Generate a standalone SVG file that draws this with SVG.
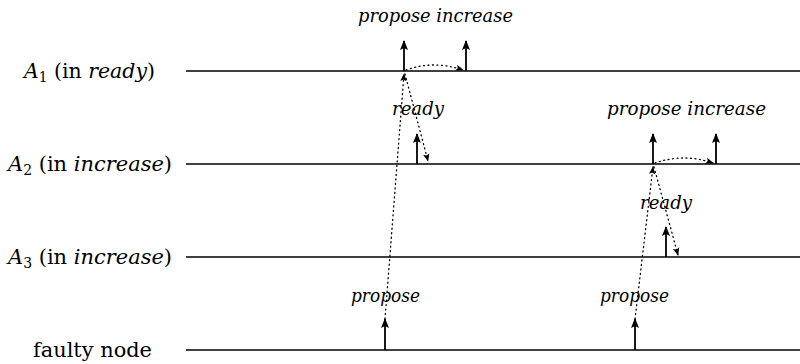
<svg xmlns="http://www.w3.org/2000/svg" width="800" height="364" viewBox="0 0 800 364">
  <defs>
    <marker id="head" viewBox="0 0 10 10" refX="9" refY="5" markerWidth="10" markerHeight="10" markerUnits="userSpaceOnUse" orient="auto">
      <path d="M0,1 L10,5 L0,9 L2,5 Z" fill="#000"/>
    </marker>
    <marker id="headSmall" viewBox="0 0 10 10" refX="9" refY="5" markerWidth="8" markerHeight="8" markerUnits="userSpaceOnUse" orient="auto">
      <path d="M0,1 L10,5 L0,9 L2,5 Z" fill="#000"/>
    </marker>
  </defs>
  <style>
    .line { stroke: #000; stroke-width: 1.3; fill: none; }
    .send { stroke: #000; stroke-width: 1.8; fill: none; marker-end: url(#head); }
    .msg { stroke: #000; stroke-width: 1.3; stroke-dasharray: 1 3.5; stroke-linecap: round; fill: none; marker-end: url(#headSmall); }
    text { fill: #000; font-family: "DejaVu Serif", "Liberation Serif", "Noto Serif", serif; }
    .lbl { font-size: 21px; }
    .ev { font-size: 19px; font-style: italic; }
    .it { font-style: italic; }
  </style>

  <!-- process timelines -->
  <g id="a1">
    <text class="lbl" x="24" y="78" textLength="131" lengthAdjust="spacingAndGlyphs"><tspan class="it">A</tspan><tspan font-size="14" dy="4">1</tspan><tspan dy="-4"> (in </tspan><tspan class="it">ready</tspan>)</text>
    <line class="line" x1="186" y1="71" x2="800" y2="71"/>
  </g>
  <g id="a2">
    <text class="lbl" x="8" y="171" textLength="164" lengthAdjust="spacingAndGlyphs"><tspan class="it">A</tspan><tspan font-size="14" dy="4">2</tspan><tspan dy="-4"> (in </tspan><tspan class="it">increase</tspan>)</text>
    <line class="line" x1="186" y1="164" x2="800" y2="164"/>
  </g>
  <g id="a3">
    <text class="lbl" x="8" y="264" textLength="164" lengthAdjust="spacingAndGlyphs"><tspan class="it">A</tspan><tspan font-size="14" dy="4">3</tspan><tspan dy="-4"> (in </tspan><tspan class="it">increase</tspan>)</text>
    <line class="line" x1="186" y1="257" x2="800" y2="257"/>
  </g>
  <g id="faulty">
    <text class="lbl" x="33" y="357" textLength="119" lengthAdjust="spacingAndGlyphs">faulty node</text>
    <line class="line" x1="186" y1="350" x2="800" y2="350"/>
  </g>

  <!-- events and messages -->
  <g id="connectors">
    <!-- faulty node proposes to A1 -->
    <line class="send" x1="385" y1="350" x2="385" y2="319"/>
    <line class="msg" x1="385" y1="319" x2="404" y2="74"/>
    <!-- A1 proposes and moves to increase -->
    <line class="send" x1="404" y1="71" x2="404" y2="41"/>
    <path class="msg" d="M406,70 Q434,60 463,70"/>
    <line class="send" x1="466" y1="71" x2="466" y2="41"/>
    <!-- A1 ready message to A2 -->
    <line class="msg" x1="405" y1="74" x2="428" y2="161"/>
    <line class="send" x1="417" y1="164" x2="417" y2="134"/>

    <!-- faulty node proposes to A2 -->
    <line class="send" x1="635" y1="350" x2="635" y2="319"/>
    <line class="msg" x1="635" y1="319" x2="653" y2="167"/>
    <!-- A2 proposes and moves to increase -->
    <line class="send" x1="653" y1="164" x2="653" y2="134"/>
    <path class="msg" d="M655,163 Q684,153 713,163"/>
    <line class="send" x1="716" y1="164" x2="716" y2="134"/>
    <!-- A2 ready message to A3 -->
    <line class="msg" x1="654" y1="167" x2="678" y2="255"/>
    <line class="send" x1="666" y1="257" x2="666" y2="227"/>
  </g>

  <!-- event labels -->
  <g id="labels">
    <text class="ev" x="358" y="22" textLength="155" lengthAdjust="spacingAndGlyphs">propose  increase</text>
    <text class="ev" x="392" y="115" textLength="52" lengthAdjust="spacingAndGlyphs">ready</text>
    <text class="ev" x="607" y="115" textLength="159" lengthAdjust="spacingAndGlyphs">propose  increase</text>
    <text class="ev" x="640" y="209" textLength="52" lengthAdjust="spacingAndGlyphs">ready</text>
    <text class="ev" x="351" y="302" textLength="69" lengthAdjust="spacingAndGlyphs">propose</text>
    <text class="ev" x="600" y="302" textLength="69" lengthAdjust="spacingAndGlyphs">propose</text>
  </g>
</svg>
